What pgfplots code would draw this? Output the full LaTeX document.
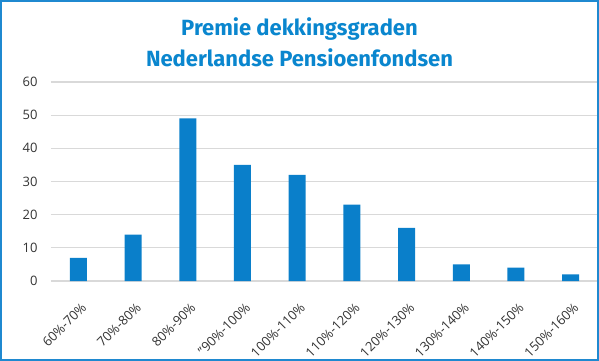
\documentclass[border=0pt]{standalone}
\usepackage{fontspec}
\setmainfont{Open Sans}
\newfontfamily\titlefont{Fira Sans}
\usepackage{pgfplots}
\pgfplotsset{compat=1.18}
\definecolor{barblue}{HTML}{0A7FCA}
\definecolor{titleblue}{HTML}{0A86CE}
\definecolor{borderblue}{HTML}{1F89D0}
\definecolor{gridgray}{HTML}{D9D9D9}
\definecolor{ticktext}{HTML}{333333}
\begin{document}
\begin{tikzpicture}[x=1pt,y=1pt]
\begin{axis}[
  scale only axis, width=547pt, height=199pt,
  xmin=-0.5, xmax=9.5, ymin=0, ymax=60,
  ytick={0,10,20,30,40,50,60},
  xtick={0,...,9},
  xticklabels={60\%-70\%,70\%-80\%,80\%-90\%,"90\%-100\%,100\%-110\%,110\%-120\%,120\%-130\%,130\%-140\%,140\%-150\%,150\%-160\%},
  x tick label style={rotate=45, anchor=north east, font=\fontsize{13}{15}\selectfont, text=ticktext, inner sep=1pt, yshift=-12pt, xshift=-9pt},
  y tick label style={font=\fontsize{13}{15}\selectfont, text=ticktext},
  /pgf/number format/assume math mode=true,
  ymajorgrids, grid style={gridgray, line width=1.2pt},
  axis line style={draw=none},
  major tick style={draw=none},
  yticklabel style={xshift=-10pt},
  ybar, bar width=17pt,
]
\addplot[fill=barblue, draw=none] coordinates {(0,7) (1,14) (2,49) (3,35) (4,32) (5,23) (6,16) (7,5) (8,4) (9,2)};
\coordinate (O) at (rel axis cs:0,0);
\end{axis}
\begin{scope}[shift={(O)}]
\draw[borderblue, line width=2pt] (-50,-79) rectangle (547,280);
\node[font=\titlefont\bfseries\fontsize{22}{26}\selectfont, text=titleblue, anchor=base] at (248.5,245) {Premie dekkingsgraden};
\node[font=\titlefont\bfseries\fontsize{22}{26}\selectfont, text=titleblue, anchor=base] at (248.5,214) {Nederlandse Pensioenfondsen};
\end{scope}
\end{tikzpicture}
\end{document}
